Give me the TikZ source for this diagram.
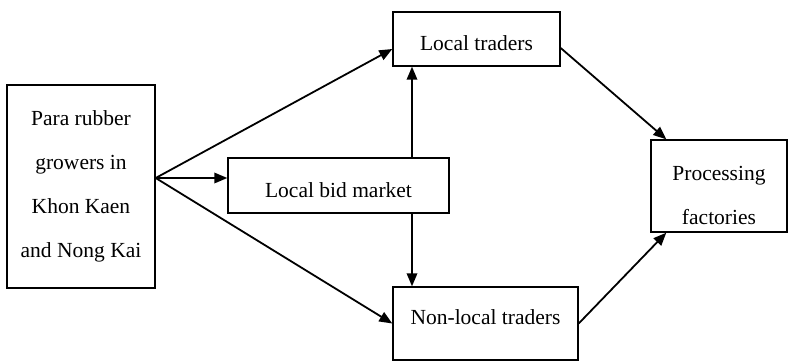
\documentclass[tikz,border=0pt]{standalone}
\usepackage{fontspec}
\setmainfont{Liberation Serif}
\usetikzlibrary{arrows.meta}
\newcommand{\lowr}[2]{\raisebox{-#1}[\height][\depth]{#2}}
\begin{document}
\begin{tikzpicture}[x=1pt,y=-1pt,
  box/.style={draw, line width=1.4pt, rectangle, inner sep=0pt, align=center,
    font=\fontsize{21.5}{44}\selectfont, anchor=center},
  conn/.style={line width=1.8pt, -{Triangle[length=13pt,width=10.5pt]}}]
\useasboundingbox (0,0) rectangle (788,362);
\node[box, minimum width=148pt, minimum height=203pt] (grow) at (81,186.5)
  {Para rubber\\growers in\\Khon Kaen\\and Nong Kai};
\node[box, minimum width=167pt, minimum height=54pt] (lt) at (476.5,39) {\lowr{4pt}{Local traders}};
\node[box, minimum width=221pt, minimum height=55pt] (bid) at (338.5,185.5) {\lowr{5pt}{Local bid market}};
\node[box, minimum width=185pt, minimum height=73pt] (nlt) at (485.5,323.5) {\lowr{-6pt}{Non-local traders}};
\node[box, minimum width=136pt, minimum height=92pt] (proc) at (719,186)
  {\lowr{7.5pt}{\begin{tabular}{@{}c@{}}Processing\\factories\end{tabular}}};
\coordinate (gx) at ([yshift=8.5pt]grow.east);
\draw[conn] (gx) -- ([yshift=-10pt]lt.west);
\draw[conn] (gx) -- (bid.west |- gx);
\draw[conn] (gx) -- (nlt.west);
\draw[conn] (bid.north -| 412,0) -- (lt.south -| 412,0);
\draw[conn] (bid.south -| 412,0) -- (nlt.north -| 412,0);
\draw[conn] ([yshift=-9pt]lt.east) -- ([xshift=16pt]proc.north west);
\draw[conn] (nlt.east) -- ([xshift=16pt]proc.south west);
\end{tikzpicture}
\end{document}
